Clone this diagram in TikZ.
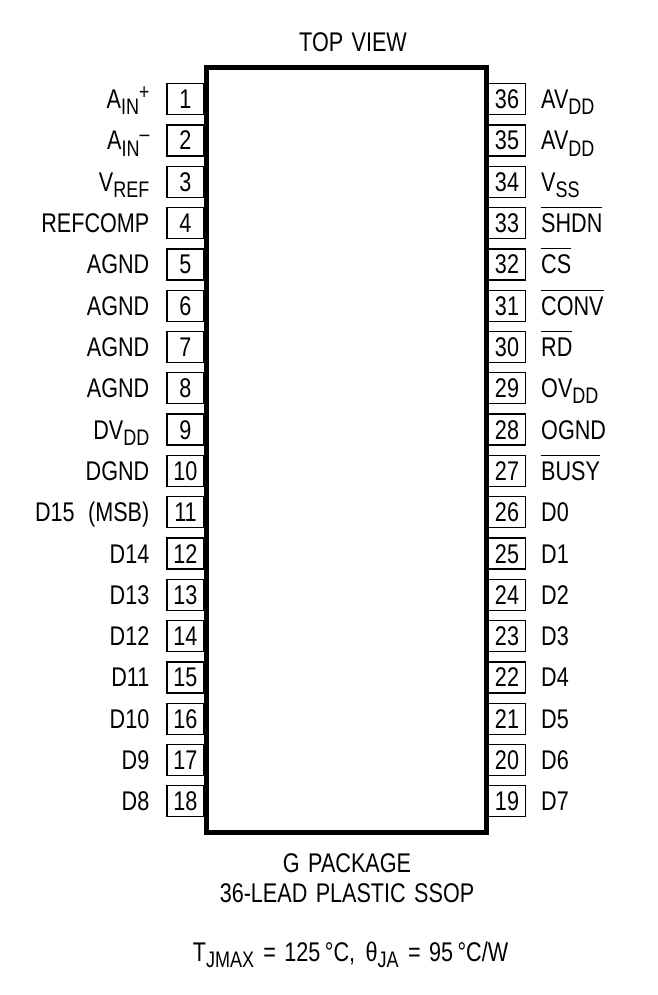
\documentclass[tikz,border=0pt]{standalone}
\usepackage{fontspec}
\setmainfont[FakeStretch=0.8,WordSpace=1.4]{Liberation Sans}
\newcommand\subtxt[1]{\raisebox{-6pt}{\fontsize{22.5}{22.5}\selectfont #1}}
\newcommand\suptxt[1]{\raisebox{9pt}{\fontsize{22}{22}\selectfont #1}}
\newcommand\ovl[1]{\sbox0{#1}\rlap{\rule[24.5pt]{\wd0}{1pt}}\box0}
\tikzset{
  pinbox/.style={draw=black,line width=1.3pt,fill=white,minimum width=37pt,minimum height=31pt,inner sep=0pt,text height=19pt,text depth=0pt,align=center},
  pinlabel/.style={inner sep=0pt,text=black},
  pkgbody/.style={draw=black,line width=5.5pt,fill=white,minimum width=280pt,minimum height=764.8pt,inner sep=0pt},
  caption/.style={inner sep=0pt,anchor=base,text=black}
}
\begin{document}
\begin{tikzpicture}[x=1pt,y=-1pt,every node/.style={font=\fontsize{27}{27}\selectfont}]
\useasboundingbox (0,0) rectangle (657,995);
\foreach \i/\l in {1/{A\subtxt{IN}\suptxt{+}},2/{A\subtxt{IN}\suptxt{–}},3/{V\subtxt{REF}},4/{REFCOMP},5/{AGND},6/{AGND},7/{AGND},8/{AGND},9/{DV\subtxt{DD}},10/{DGND},11/{D15\hspace{5pt} (MSB)},12/{D14},13/{D13},14/{D12},15/{D11},16/{D10},17/{D9},18/{D8}}{
  \pgfmathsetmacro\yy{99.2+41.3*(\i-1)}
  \pgfmathsetmacro\yb{\yy+9.5}
  \node[pinbox] (p\i) at (185.5,\yy) {\i};
  \node[pinlabel,anchor=base east] (l\i) at (149.5,\yb) {\l};
}
\foreach \i/\n/\l in {1/36/{AV\subtxt{DD}},2/35/{AV\subtxt{DD}},3/34/{V\subtxt{SS}},4/33/{\ovl{SHDN}},5/32/{\ovl{CS}},6/31/{\ovl{CONV}},7/30/{\ovl{RD}},8/29/{OV\subtxt{DD}},9/28/{OGND},10/27/{\ovl{BUSY}},11/26/{D0},12/25/{D1},13/24/{D2},14/23/{D3},15/22/{D4},16/21/{D5},17/20/{D6},18/19/{D7}}{
  \pgfmathsetmacro\yy{99.2+41.3*(\i-1)}
  \pgfmathsetmacro\yb{\yy+9.5}
  \node[pinbox] (p\n) at (507,\yy) {\n};
  \node[pinlabel,anchor=base west] (l\n) at (541,\yb) {\l};
}
\node[pkgbody] (pkg) at (346.25,450.1) {};
\node[caption] (top) at (353,52) {TOP VIEW};
\node[caption] (pk) at (347,872) {G PACKAGE};
\node[caption] (ld) at (347,902) {36-LEAD PLASTIC SSOP};
\node[caption] (th) at (350.5,961) {T\subtxt{JMAX}\hspace{1pt} = 125\,°C,\hspace{2pt} θ\subtxt{JA}\hspace{1pt} = 95\,°C/W};
\end{tikzpicture}
\end{document}
